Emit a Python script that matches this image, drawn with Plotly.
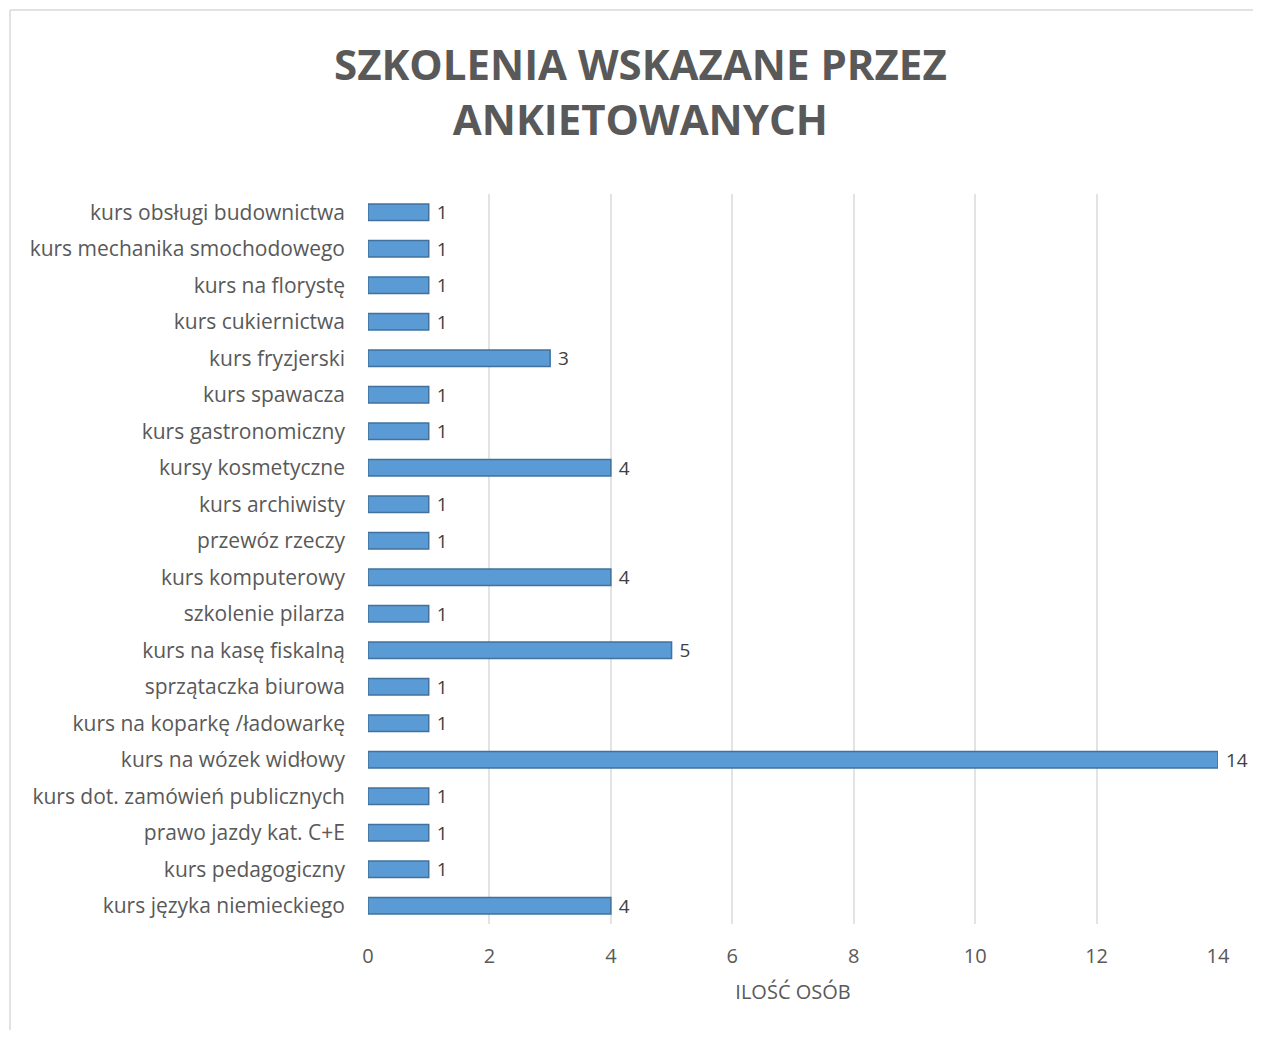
import plotly.graph_objects as go

categories = [
    "kurs obsługi budownictwa",
    "kurs mechanika smochodowego",
    "kurs na florystę",
    "kurs cukiernictwa",
    "kurs fryzjerski",
    "kurs spawacza",
    "kurs gastronomiczny",
    "kursy kosmetyczne",
    "kurs archiwisty",
    "przewóz rzeczy",
    "kurs komputerowy",
    "szkolenie pilarza",
    "kurs na kasę fiskalną",
    "sprzątaczka biurowa",
    "kurs na koparkę /ładowarkę",
    "kurs na wózek widłowy",
    "kurs dot. zamówień publicznych",
    "prawo jazdy kat. C+E",
    "kurs pedagogiczny",
    "kurs języka niemieckiego",
]
values = [1, 1, 1, 1, 3, 1, 1, 4, 1, 1, 4, 1, 5, 1, 1, 14, 1, 1, 1, 4]
x_ticks = [0, 2, 4, 6, 8, 10, 12, 14]

FONT = "Open Sans"
GREY = "#595959"

fig = go.Figure()
fig.add_trace(go.Bar(
    y=categories,
    x=values,
    orientation="h",
    marker=dict(color="#5B9BD5", line=dict(color="#41719C", width=1.5)),
    text=[" " + str(v) for v in values],
    textposition="outside",
    constraintext="none",
    textfont=dict(family=FONT, size=19, color="#404040"),
    cliponaxis=False,
    hoverinfo="x+y",
))

W, H = 1245, 1022
L, R, T, B = 360, 35, 186, 106
PW, PH = W - L - R, H - T - B

fig.update_layout(
    width=W,
    height=H,
    paper_bgcolor="white",
    plot_bgcolor="white",
    margin=dict(l=L, r=R, t=T, b=B),
    bargap=0.55,
    showlegend=False,
    xaxis=dict(
        range=[0, 14.0],
        tickvals=x_ticks,
        showgrid=True,
        gridcolor="#E3E3E3",
        gridwidth=1.5,
        zeroline=False,
        showline=False,
        ticks="",
        ticklabelstandoff=18,
        tickfont=dict(family=FONT, size=20, color=GREY),
        title=dict(text="ILOŚĆ OSÓB", font=dict(family=FONT, size=20, color=GREY), standoff=16),
    ),
    yaxis=dict(
        autorange="reversed",
        showgrid=False,
        zeroline=False,
        showline=False,
        ticks="",
        ticklabelstandoff=22,
        tickfont=dict(family=FONT, size=21, color=GREY),
    ),
    annotations=[dict(
        text="SZKOLENIA WSKAZANE PRZEZ<br>ANKIETOWANYCH",
        xref="paper", yref="paper",
        x=(632 - L) / PW, y=1 + (T - 83) / PH,
        xanchor="center", yanchor="middle",
        showarrow=False,
        font=dict(family=FONT, size=42, color=GREY, weight="bold"),
    )],
    shapes=[
        dict(type="line", xref="paper", yref="paper",
             x0=(2 - L) / PW, x1=(2 - L) / PW,
             y0=-(B + 5) / PH, y1=1 + (T - 2) / PH,
             line=dict(color="#D9D9D9", width=1.5)),
        dict(type="line", xref="paper", yref="paper",
             x0=(2 - L) / PW, x1=(W + 5 - L) / PW,
             y0=1 + (T - 2) / PH, y1=1 + (T - 2) / PH,
             line=dict(color="#D9D9D9", width=1.5)),
    ],
)

fig.write_html("out.html")
